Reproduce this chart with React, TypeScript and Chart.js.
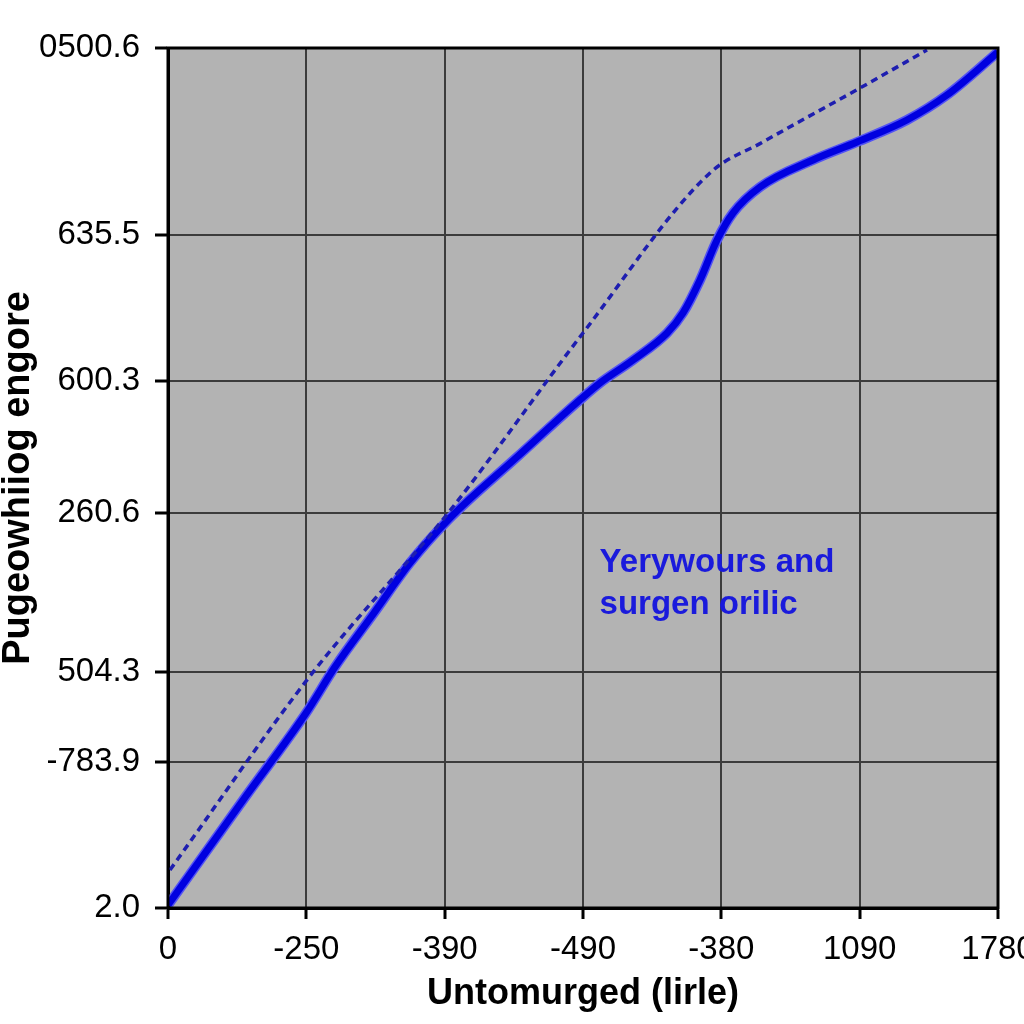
import { useEffect, useRef } from 'react';
import { Chart, registerables } from 'chart.js';

Chart.register(...registerables);

const FONT = "'Liberation Sans', Arial, sans-serif";

const xTickPositions = [0, 1, 2, 3, 4, 5, 6];
const xTickLabels = ['0', '-250', '-390', '-490', '-380', '1090', '1780'];

const yTickPositions = [0, 16.98, 27.44, 45.93, 61.28, 78.26, 100];
const yTickLabels = ['2.0', '-783.9', '504.3', '260.6', '600.3', '635.5', '0500.6'];

const xTitle = 'Untomurged (lirle)';
const yTitle = 'Pugeowhiiog engore';

const solidX = [0, 0.564, 0.998, 1.207, 1.489, 1.749, 2.031, 2.523, 2.986, 3.123, 3.362, 3.608, 3.723, 3.846, 3.969, 4.084, 4.28, 4.663, 4.981, 5.342, 5.631, 6.0];
const solidY = [0.35, 13.02, 22.67, 28.02, 34.3, 40.12, 45.23, 52.44, 59.19, 61.05, 63.72, 66.86, 69.19, 73.02, 77.67, 80.81, 83.84, 86.98, 89.07, 91.63, 94.53, 99.53];

const dashedX = [0.014, 1.027, 2.031, 3.0, 3.918, 4.301, 5.003, 5.487];
const dashedY = [4.42, 26.98, 46.05, 66.86, 85.47, 89.07, 95.35, 99.77];

const annotationLines = ['Yerywours and', 'surgen orilic'];
const annotationX = 3.12;
const annotationY = [40.1, 35.2];

const toPoints = (xs: number[], ys: number[]) => xs.map((x, i) => ({ x, y: ys[i] }));

const plotStyle = {
  id: 'plotStyle',
  beforeDraw(chart: any) {
    const { ctx, chartArea: a } = chart;
    ctx.save();
    ctx.fillStyle = '#b3b3b3';
    ctx.fillRect(a.left, a.top, a.right - a.left, a.bottom - a.top);
    ctx.restore();
  },
  afterDatasetsDraw(chart: any) {
    const { ctx, chartArea: a, scales } = chart;
    ctx.save();
    ctx.strokeStyle = '#000';
    ctx.lineWidth = 3;
    ctx.strokeRect(a.left, a.top, a.right - a.left, a.bottom - a.top);
    ctx.fillStyle = '#1a1adc';
    ctx.font = `bold 33px ${FONT}`;
    ctx.textBaseline = 'middle';
    ctx.textAlign = 'left';
    annotationLines.forEach((line, i) => {
      ctx.fillText(line, scales.x.getPixelForValue(annotationX), scales.y.getPixelForValue(annotationY[i]));
    });
    ctx.restore();
  },
};

export default function App() {
  const ref = useRef<HTMLCanvasElement>(null);
  useEffect(() => {
    if (!ref.current) return;
    const chart = new Chart(ref.current, {
      type: 'line',
      data: {
        datasets: [
          {
            data: toPoints(dashedX, dashedY),
            borderColor: '#1e1eb0',
            borderWidth: 3.5,
            borderDash: [7, 5],
            pointRadius: 0,
            cubicInterpolationMode: 'monotone',
            fill: false,
          },
          {
            data: toPoints(solidX, solidY),
            borderColor: '#0000e0',
            borderWidth: 7,
            pointRadius: 0,
            cubicInterpolationMode: 'monotone',
            fill: false,
          },
          {
            data: toPoints(solidX, solidY),
            borderColor: '#5252f4',
            borderWidth: 10,
            pointRadius: 0,
            cubicInterpolationMode: 'monotone',
            fill: false,
          },
        ],
      },
      options: {
        responsive: false,
        animation: false,
        layout: { padding: { top: 48, right: 26, bottom: 0, left: 0 } },
        plugins: { legend: { display: false }, tooltip: { enabled: false } },
        scales: {
          x: {
            type: 'linear',
            min: 0,
            max: 6,
            afterFit: (s: any) => { s.height = 116; s.paddingLeft = 0; s.paddingRight = 0; },
            afterBuildTicks: (s: any) => { s.ticks = xTickPositions.map((v) => ({ value: v })); },
            ticks: {
              color: '#000',
              font: { family: FONT, size: 33 },
              padding: 11,
              maxRotation: 0,
              autoSkip: false,
              callback: (v: any) => xTickLabels[xTickPositions.indexOf(Number(v))] ?? '',
            },
            grid: { color: '#3c3c3c', lineWidth: 2, tickColor: '#000', tickWidth: 3, tickLength: 11 },
            border: { color: '#000', width: 3 },
            title: {
              display: true,
              text: xTitle,
              color: '#000',
              font: { family: FONT, size: 36, weight: 'bold', lineHeight: 1.2 },
              padding: { top: 0, bottom: 8 },
            },
          },
          y: {
            type: 'linear',
            min: 0,
            max: 100,
            afterFit: (s: any) => { s.width = 168; s.paddingTop = 0; s.paddingBottom = 0; },
            afterBuildTicks: (s: any) => { s.ticks = yTickPositions.map((v) => ({ value: v })); },
            ticks: {
              color: '#000',
              font: { family: FONT, size: 33 },
              padding: 15,
              autoSkip: false,
              callback: (v: any) => yTickLabels[yTickPositions.indexOf(Number(v))] ?? '',
            },
            grid: { color: '#3c3c3c', lineWidth: 2, tickColor: '#000', tickWidth: 3, tickLength: 13 },
            border: { color: '#000', width: 3 },
            title: {
              display: true,
              text: yTitle,
              color: '#000',
              font: { family: FONT, size: 38, weight: 'bold', lineHeight: 1 },
              padding: 0,
            },
          },
        },
      },
      plugins: [plotStyle],
    } as any);
    return () => chart.destroy();
  }, []);
  return (
    <div style={{ position: 'absolute', left: 0, top: 0, width: 1024, height: 1024, background: '#fff' }}>
      <canvas ref={ref} width={1024} height={1024} style={{ display: 'block' }} />
    </div>
  );
}
